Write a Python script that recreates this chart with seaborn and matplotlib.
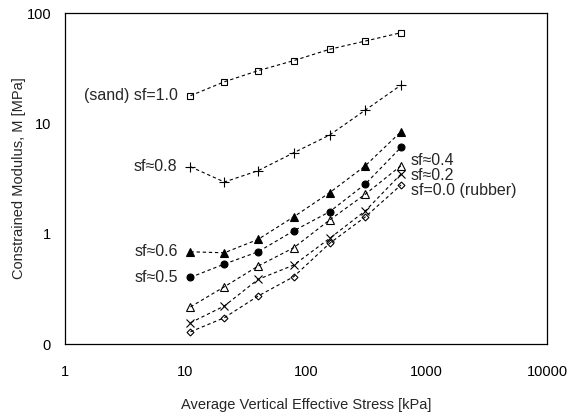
import numpy as np
import pandas as pd
import matplotlib
matplotlib.use("Agg")
import matplotlib.pyplot as plt
import seaborn as sns

# Data
stress = [11, 21, 40, 79, 157, 311, 614]
m_sf10 = [17.8, 23.8, 30.0, 37.0, 46.9, 55.7, 66.3]
m_sf08 = [4.04, 2.94, 3.72, 5.41, 7.83, 13.2, 22.2]
m_sf06 = [0.685, 0.671, 0.887, 1.42, 2.35, 4.13, 8.4]
m_sf05 = [0.402, 0.530, 0.685, 1.06, 1.58, 2.82, 6.06]
m_sf04 = [0.217, 0.330, 0.508, 0.745, 1.33, 2.28, 4.13]
m_sf02 = [0.156, 0.221, 0.385, 0.519, 0.906, 1.61, 3.47]
m_sf00 = [0.129, 0.173, 0.272, 0.407, 0.817, 1.42, 2.76]

x_ticks = [1, 10, 100, 1000, 10000]
x_tick_labels = ["1", "10", "100", "1000", "10000"]
y_ticks = [0.1, 1, 10, 100]
y_tick_labels = ["0", "1", "10", "100"]

sns.set_style("white")
plt.rcParams['font.family'] = ['Liberation Sans', 'DejaVu Sans']

fig = plt.figure(figsize=(5.70, 4.19), dpi=100)
ax = fig.add_axes([65/570, 1-344/419, (547-65)/570, (344-13)/419])

series = [
    (m_sf10, 's', 'none', 4.5),
    (m_sf08, '+', 'black', 7),
    (m_sf06, '^', 'black', 5.5),
    (m_sf05, 'o', 'black', 5),
    (m_sf04, '^', 'none', 5.5),
    (m_sf02, 'x', 'black', 6),
    (m_sf00, 'D', 'none', 3.5),
]
for vals, mk, fc, ms in series:
    df = pd.DataFrame({"stress": stress, "M": vals})
    sns.lineplot(data=df, x="stress", y="M", ax=ax, color="black",
                 linestyle=(0, (3, 2.5)), linewidth=0.8,
                 marker=mk, markersize=ms, markerfacecolor=fc,
                 markeredgecolor="black", markeredgewidth=0.8)

ax.set_xscale("log")
ax.set_yscale("log")
ax.set_xlim(1, 10000)
ax.set_ylim(0.1, 100)
ax.set_xticks(x_ticks)
ax.set_xticklabels(x_tick_labels)
ax.set_yticks(y_ticks)
ax.set_yticklabels(y_tick_labels)
ax.minorticks_off()
ax.tick_params(axis="both", length=0, labelsize=10.5, colors="black")
ax.tick_params(axis="x", pad=15)
ax.tick_params(axis="y", pad=10)
for s in ax.spines.values():
    s.set_color("black")
    s.set_linewidth(0.9)

ax.set_xlabel("Average Vertical Effective Stress [kPa]", fontsize=10.5, labelpad=14)
ax.set_ylabel("Constrained Modulus, M [MPa]", fontsize=10.5, labelpad=0)

fs = 11.5
ax.text(8.6, m_sf10[0], "(sand) sf=1.0", ha="right", va="center", fontsize=fs)
ax.text(8.6, m_sf08[0], "sf\u22480.8", ha="right", va="center", fontsize=fs)
ax.text(8.6, m_sf06[0], "sf\u22480.6", ha="right", va="center", fontsize=fs)
ax.text(8.6, m_sf05[0], "sf\u22480.5", ha="right", va="center", fontsize=fs)
ax.text(740, 4.6, "sf\u22480.4", ha="left", va="center", fontsize=fs)
ax.text(740, 3.35, "sf\u22480.2", ha="left", va="center", fontsize=fs)
ax.text(740, 2.45, "sf=0.0 (rubber)", ha="left", va="center", fontsize=fs)

fig.savefig("out.png", dpi=100)
